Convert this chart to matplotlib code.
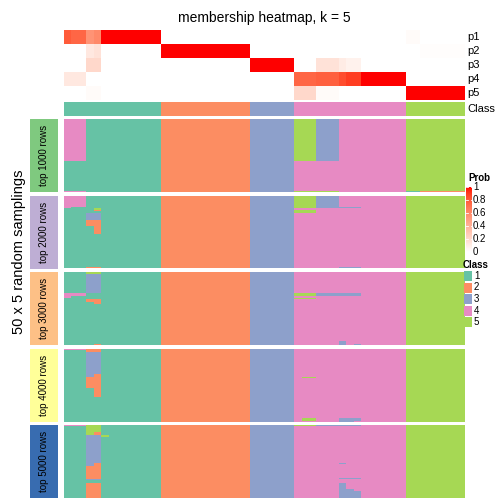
import numpy as np
import matplotlib
import matplotlib.pyplot as plt
from matplotlib.colors import ListedColormap
from matplotlib.patches import Rectangle

matplotlib.rcParams['font.family'] = ['Liberation Sans', 'DejaVu Sans']

# consensus class of each of the 54 samples
class_sizes = [13, 12, 6, 15, 8]
class_ids = [1, 2, 3, 4, 5]

# membership probabilities p1..p5 per sample (column order)
p1 = [0.80, 0.75, 0.75, 0.55, 0.60, 1, 1, 1, 1, 1, 1, 1, 1,
      0, 0, 0, 0, 0, 0, 0, 0, 0, 0, 0, 0,
      0, 0, 0, 0, 0, 0,
      0, 0, 0, 0, 0, 0, 0, 0, 0, 0, 0, 0, 0, 0, 0,
      0.02, 0.02, 0, 0, 0, 0, 0, 0]
p2 = [0, 0, 0, 0.12, 0.15, 0, 0, 0, 0, 0, 0, 0, 0,
      1, 1, 1, 1, 1, 1, 1, 1, 1, 1, 1, 1,
      0, 0, 0, 0, 0, 0,
      0, 0, 0, 0, 0, 0, 0, 0, 0, 0, 0, 0, 0, 0, 0,
      0, 0, 0.01, 0.01, 0.01, 0.01, 0.01, 0.01]
p3 = [0, 0, 0, 0.2, 0.2, 0, 0, 0, 0, 0, 0, 0, 0,
      0, 0, 0, 0, 0, 0, 0, 0, 0, 0, 0, 0,
      1, 1, 1, 1, 1, 1,
      0, 0, 0, 0.15, 0.15, 0.15, 0.1, 0.07, 0.07, 0, 0, 0, 0, 0, 0,
      0, 0, 0, 0, 0, 0, 0, 0]
p4 = [0.12, 0.12, 0.12, 0, 0, 0, 0, 0, 0, 0, 0, 0, 0,
      0, 0, 0, 0, 0, 0, 0, 0, 0, 0, 0, 0,
      0, 0, 0, 0, 0, 0,
      0.75, 0.75, 0.75, 0.78, 0.78, 0.78, 0.85, 0.9, 0.9, 1, 1, 1, 1, 1, 1,
      0, 0, 0, 0, 0, 0, 0, 0]
p5 = [0, 0, 0, 0.02, 0.02, 0, 0, 0, 0, 0, 0, 0, 0,
      0, 0, 0, 0, 0, 0, 0, 0, 0, 0, 0, 0,
      0, 0, 0, 0, 0, 0,
      0.2, 0.2, 0.2, 0.02, 0.02, 0.02, 0, 0, 0, 0, 0, 0, 0, 0, 0,
      1, 1, 1, 1, 1, 1, 1, 1]
prob_labels = ['p1', 'p2', 'p3', 'p4', 'p5']

# random samplings: 5 row subsets x 50 runs; runs that disagree with consensus
# (subset, first run, last run, first sample, last sample, class)
subset_labels = ['top 1000 rows', 'top 2000 rows', 'top 3000 rows',
                 'top 4000 rows', 'top 5000 rows']
n_runs = 50
deviations = [
    (0, 0, 28, 0, 2, 4), (0, 49, 49, 0, 2, 4),
    (0, 0, 28, 31, 33, 5), (0, 0, 28, 34, 36, 3),
    (0, 49, 49, 31, 36, 5), (0, 49, 49, 46, 47, 1), (0, 49, 49, 48, 53, 2),

    (1, 0, 7, 0, 2, 4), (1, 8, 8, 0, 0, 4), (1, 0, 0, 4, 4, 2),
    (1, 9, 9, 4, 4, 5), (1, 10, 10, 4, 4, 2), (1, 12, 16, 3, 4, 3),
    (1, 17, 20, 3, 4, 2), (1, 21, 26, 4, 4, 2), (1, 49, 49, 3, 4, 2),
    (1, 0, 8, 31, 33, 5), (1, 10, 11, 31, 33, 5), (1, 0, 7, 34, 36, 3),
    (1, 8, 8, 34, 39, 3), (1, 49, 49, 37, 39, 3),

    (2, 0, 1, 3, 4, 5), (2, 2, 14, 3, 4, 3), (2, 15, 16, 0, 2, 4),
    (2, 17, 17, 0, 0, 4), (2, 19, 20, 3, 4, 2), (2, 21, 21, 4, 4, 2),
    (2, 49, 49, 4, 4, 2), (2, 15, 16, 31, 33, 5), (2, 18, 18, 31, 33, 5),
    (2, 15, 16, 34, 39, 3), (2, 47, 49, 37, 37, 3), (2, 49, 49, 39, 39, 3),

    (3, 0, 0, 0, 2, 4), (3, 0, 1, 3, 4, 2), (3, 2, 18, 3, 3, 3),
    (3, 19, 26, 3, 3, 2), (3, 2, 16, 4, 4, 3), (3, 17, 32, 4, 4, 2),
    (3, 19, 19, 32, 33, 5), (3, 47, 48, 32, 33, 5), (3, 47, 48, 37, 39, 3),
    (3, 49, 49, 37, 38, 3),

    (4, 0, 0, 0, 2, 4), (4, 0, 6, 3, 3, 5), (4, 0, 4, 4, 4, 5),
    (4, 5, 6, 4, 4, 2), (4, 7, 7, 5, 5, 5), (4, 7, 27, 3, 3, 3),
    (4, 7, 25, 4, 4, 3), (4, 28, 36, 3, 3, 2), (4, 26, 36, 4, 4, 2),
    (4, 37, 37, 3, 4, 3), (4, 40, 49, 3, 4, 2), (4, 0, 0, 31, 33, 5),
    (4, 0, 0, 34, 39, 3), (4, 26, 26, 37, 37, 3), (4, 36, 36, 37, 39, 3),
    (4, 40, 49, 37, 37, 3), (4, 44, 49, 38, 38, 3), (4, 45, 49, 39, 39, 3),
]

class_colors = ['#66C2A5', '#FC8D62', '#8DA0CB', '#E78AC3', '#A6D854']
subset_colors = ['#7FC97F', '#BEAED4', '#FDC086', '#FFFF99', '#386CB0']
class_cmap = ListedColormap(class_colors)


# white -> red ramp interpolated in CIE Lab, like colorRamp2 in R
def lab_ramp(n=256):
    white = np.array([100.0, 0.0, 0.0])
    red = np.array([53.24, 80.09, 67.20])
    t = np.linspace(0, 1, n)[:, None]
    L, a, b = (white + (red - white) * t).T
    fy = (L + 16) / 116
    fx = fy + a / 500
    fz = fy - b / 200

    def finv(f):
        return np.where(f > 6 / 29, f ** 3, 3 * (6 / 29) ** 2 * (f - 4 / 29))

    X = 0.95047 * finv(fx)
    Y = finv(fy)
    Z = 1.08883 * finv(fz)
    r = 3.2406 * X - 1.5372 * Y - 0.4986 * Z
    g = -0.9689 * X + 1.8758 * Y + 0.0415 * Z
    bb = 0.0557 * X - 0.2040 * Y + 1.0570 * Z
    rgb = np.stack([r, g, bb], axis=1)
    rgb = np.where(rgb > 0.0031308, 1.055 * np.clip(rgb, 0, None) ** (1 / 2.4) - 0.055,
                   12.92 * rgb)
    rgb = np.clip(rgb, 0, 1)
    rgb[0] = 1.0
    return ListedColormap(rgb)


prob_cmap = lab_ramp()

W = H = 504
fig = plt.figure(figsize=(W / 100, H / 100), dpi=100)


def px_axes(x0, y0, x1, y1):
    ax = fig.add_axes([x0 / W, 1 - y1 / H, (x1 - x0) / W, (y1 - y0) / H])
    ax.set_axis_off()
    return ax


def px_text(x, y, s, **kw):
    fig.text(x / W, 1 - y / H, s, **kw)


consensus = np.repeat(class_ids, class_sizes)
hx0, hx1 = 64, 465

# membership heatmap
ax = px_axes(hx0, 30, hx1, 100)
ax.imshow(np.array([p1, p2, p3, p4, p5]), cmap=prob_cmap, vmin=0, vmax=1,
          aspect='auto', interpolation='nearest')
for i, lab in enumerate(prob_labels):
    px_text(467, 37 + 14 * i, lab, fontsize=8, va='center', ha='left')

ax = px_axes(hx0, 102, hx1, 116)
ax.imshow(consensus[None, :], cmap=class_cmap, vmin=0.5, vmax=5.5,
          aspect='auto', interpolation='nearest')
px_text(467, 109, 'Class', fontsize=8, va='center', ha='left')

px_text((hx0 + hx1) / 2, 18, 'membership heatmap, k = 5', fontsize=10,
        ha='center', va='center')

# sampling panels
panel_tops = [119, 195.5, 272, 348.5, 425]
panel_h = 73
for k, top in enumerate(panel_tops):
    mat = np.tile(consensus, (n_runs, 1))
    for s, r0, r1, c0, c1, cl in deviations:
        if s == k:
            mat[r0:r1 + 1, c0:c1 + 1] = cl
    ax = px_axes(hx0, top, hx1, top + panel_h)
    ax.imshow(mat, cmap=class_cmap, vmin=0.5, vmax=5.5,
              aspect='auto', interpolation='nearest')
    lax = px_axes(30, top, 58, top + panel_h)
    lax.add_patch(Rectangle((0, 0), 1, 1, color=subset_colors[k]))
    lax.set_xlim(0, 1)
    lax.set_ylim(0, 1)
    lax.text(0.5, 0.5, subset_labels[k], rotation=90, fontsize=7,
             ha='center', va='center')

px_text(19, 252, '50 x 5 random samplings', rotation=90, fontsize=10.5,
        ha='center', va='center')

# legends
px_text(468, 178, 'Prob', fontsize=7, fontweight='bold', ha='left', va='center')
cax = px_axes(466, 187, 472, 252)
cax.imshow(np.linspace(1, 0, 100)[:, None], cmap=prob_cmap, vmin=0, vmax=1,
           aspect='auto', extent=[0, 1, 0, 1])
cax.set_xlim(0, 1)
cax.set_ylim(0, 1)
for v in np.arange(0, 1.01, 0.2):
    cax.plot([0, 0.25], [v, v], color='white', lw=0.6)
    cax.plot([0.75, 1], [v, v], color='white', lw=0.6)
    px_text(473, 252 - 65 * v, f'{v:g}', fontsize=7, ha='left', va='center')

px_text(463, 265, 'Class', fontsize=7, fontweight='bold', ha='left', va='center')
for i, (cid, col) in enumerate(zip(class_ids, class_colors)):
    lax = px_axes(464, 271 + 11.5 * i, 472, 281 + 11.5 * i)
    lax.add_patch(Rectangle((0, 0), 1, 1, color=col))
    lax.set_xlim(0, 1)
    lax.set_ylim(0, 1)
    px_text(474, 276 + 11.5 * i, str(cid), fontsize=7, ha='left', va='center')

fig.savefig('out.png', dpi=100)
plt.close(fig)
